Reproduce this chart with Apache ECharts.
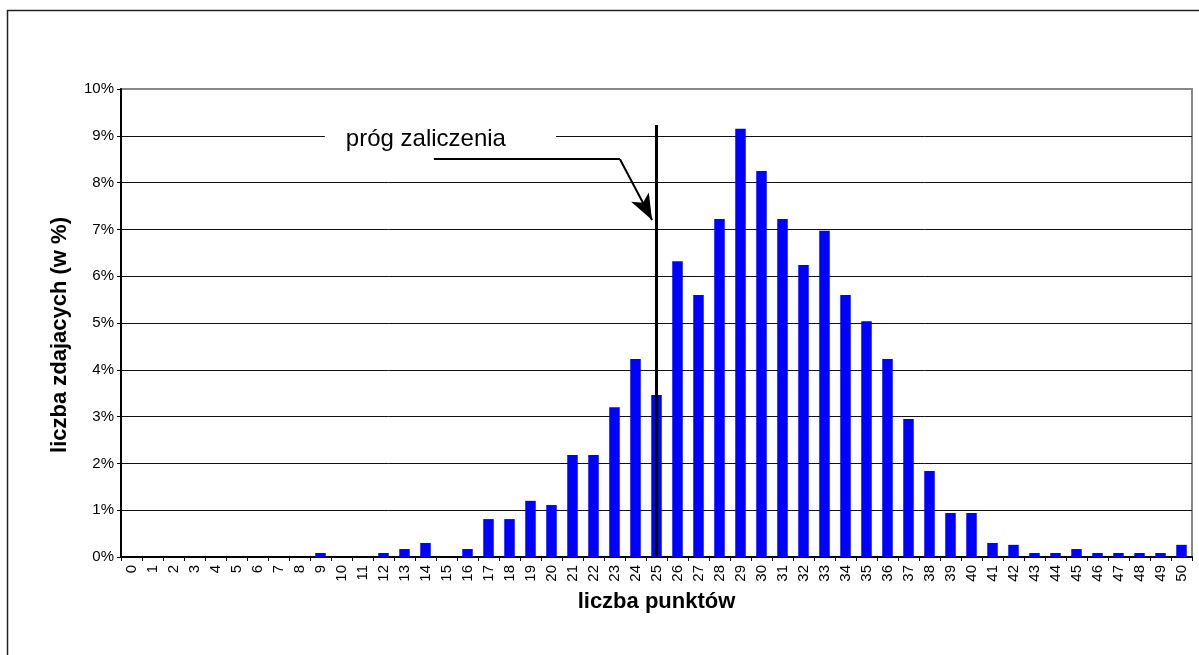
<!DOCTYPE html>
<html>
<head>
<meta charset="utf-8">
<script src="https://cdn.jsdelivr.net/npm/echarts@6/dist/echarts.min.js"></script>
<style>
html,body{margin:0;padding:0;background:#fff;}
#chart{width:1199px;height:655px;}
</style>
</head>
<body>
<div id="chart"></div>
<script>
// categories: points 0..50
const categories = ['0','1','2','3','4','5','6','7','8','9','10','11','12','13','14','15','16','17','18','19','20',
  '21','22','23','24','25','26','27','28','29','30','31','32','33','34','35','36','37','38','39','40',
  '41','42','43','44','45','46','47','48','49','50'];
// share of candidates in %
const values = [0,0,0,0,0,0,0,0,0,0.085,0,0,0.085,0.17,0.30,0,0.17,0.81,0.81,1.20,1.11,
  2.18,2.18,3.20,4.23,3.46,6.32,5.60,7.22,9.15,8.25,7.22,6.24,6.97,5.60,5.04,4.23,2.95,1.84,0.94,0.94,
  0.30,0.26,0.085,0.085,0.17,0.085,0.085,0.085,0.085,0.26];
const yTicks = [0,1,2,3,4,5,6,7,8,9,10];
const thresholdCategory = '25';
const thresholdTop = 9.23;
const annotationText = 'próg zaliczenia';
const annotationPos = [14.71, 8.93];
const arrowPath = [[14.4, 8.5], [23.26, 8.5], [24.79, 7.2]];

const FONT = 'Liberation Sans, Arial, sans-serif';
const chart = echarts.init(document.getElementById('chart'), null, {renderer: 'canvas'});
chart.setOption({
  animation: false,
  backgroundColor: '#fff',
  graphic: [{
    type: 'rect', shape: {x: 7.5, y: 10.5, width: 1210, height: 670},
    style: {fill: 'none', stroke: '#222', lineWidth: 1.5}, z: 0
  }],
  grid: {left: 121, top: 89, right: 7, bottom: 98, show: true, borderColor: '#888', borderWidth: 2, backgroundColor: '#fff'},
  xAxis: [{
    type: 'category', data: categories,
    axisLine: {onZero: false, lineStyle: {color: '#000', width: 2}},
    axisTick: {show: true, length: 4, lineStyle: {color: '#000'}},
    axisLabel: {rotate: 90, fontSize: 15, fontFamily: FONT, color: '#000', margin: 8, interval: 0},
    name: 'liczba punktów', nameLocation: 'middle', nameGap: 34,
    nameTextStyle: {fontSize: 22, fontWeight: 'bold', fontFamily: FONT, color: '#000'}
  }, {
    type: 'value', min: -0.5, max: 50.5, show: false,
    axisLine: {onZero: false}
  }],
  yAxis: {
    type: 'value', min: 0, max: 10, interval: 1,
    axisLine: {show: true, onZero: false, lineStyle: {color: '#000', width: 2}},
    axisTick: {show: true, length: 4, lineStyle: {color: '#000'}},
    axisLabel: {formatter: '{value}%', fontSize: 15, fontFamily: FONT, color: '#000', margin: 7},
    splitLine: {show: true, showMaxLine: false, lineStyle: {color: '#111', width: 1}},
    name: 'liczba zdajacych (w %)', nameLocation: 'middle', nameGap: 50,
    nameTextStyle: {fontSize: 22, fontWeight: 'bold', fontFamily: FONT, color: '#000', padding: [0, 24, 0, 0]}
  },
  series: [{
    type: 'bar', data: values, barWidth: '50%',
    itemStyle: {color: '#0000FF'},
    markLine: {
      silent: true, symbol: 'none', animation: false,
      label: {show: false},
      lineStyle: {color: '#000', width: 3, type: 'solid'},
      data: [[{coord: [thresholdCategory, 0]}, {coord: [thresholdCategory, thresholdTop]}]]
    }
  }, {
    type: 'scatter', xAxisIndex: 1, symbolSize: 1, silent: true,
    itemStyle: {color: 'rgba(0,0,0,0)'},
    data: [{value: annotationPos}],
    label: {
      show: true, position: 'inside', formatter: annotationText,
      fontSize: 24, fontFamily: FONT, color: '#000', opacity: 1, textBorderWidth: 0,
      backgroundColor: '#fff', padding: [3, 50, 3, 21]
    },
    markLine: {
      silent: true, animation: false,
      label: {show: false},
      lineStyle: {color: '#000', width: 2, type: 'solid'},
      data: [
        [{coord: arrowPath[0], symbol: 'none'}, {coord: arrowPath[1], symbol: 'none'}],
        [{coord: arrowPath[1], symbol: 'none'}, {coord: arrowPath[2], symbol: 'arrow', symbolSize: [15, 26]}]
      ]
    },
    z: 5
  }]
});
</script>
</body>
</html>
